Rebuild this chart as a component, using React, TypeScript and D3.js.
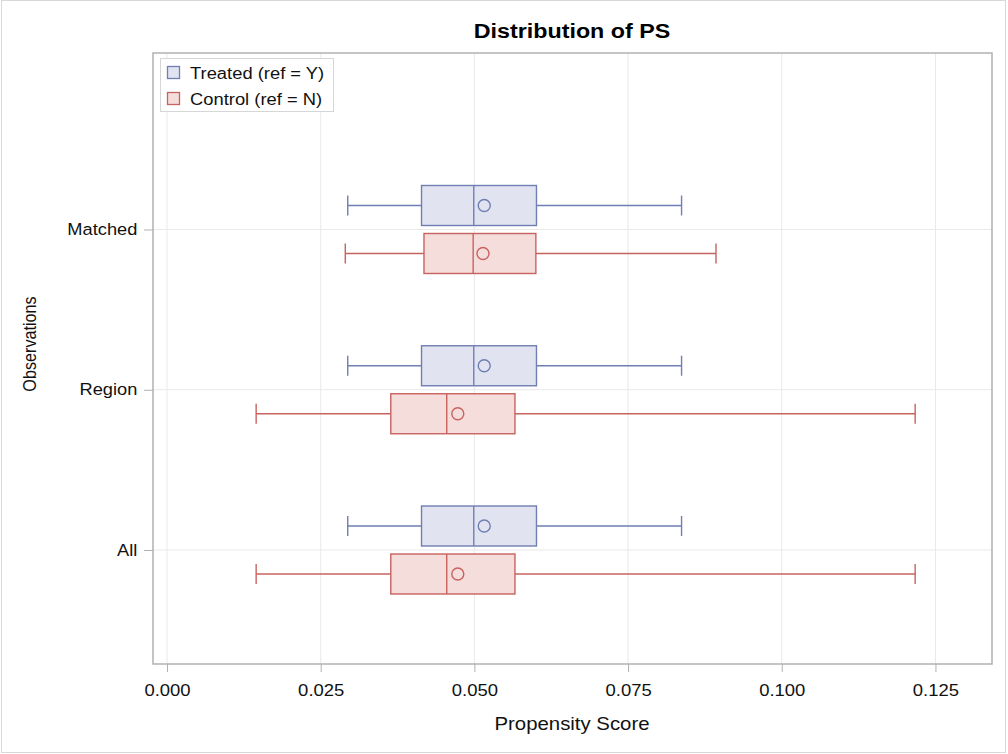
import { useEffect, useRef } from "react";
import * as d3 from "d3";

// groups shown on the y axis (top to bottom)
const groups = ["Matched", "Region", "All"];
const seriesNames = ["Treated (ref = Y)", "Control (ref = N)"];
const xTicks = [0, 0.025, 0.05, 0.075, 0.1, 0.125];

// box statistics per group: [whiskerLow, q1, median, q3, whiskerHigh, mean]
const treatedStats = [
  [0.0294, 0.0414, 0.0499, 0.0601, 0.0837, 0.0516],
  [0.0294, 0.0414, 0.0499, 0.0601, 0.0837, 0.0516],
  [0.0294, 0.0414, 0.0499, 0.0601, 0.0837, 0.0516],
];
const controlStats = [
  [0.0290, 0.0418, 0.0498, 0.0600, 0.0893, 0.0514],
  [0.0145, 0.0364, 0.0455, 0.0566, 0.1217, 0.0473],
  [0.0145, 0.0364, 0.0455, 0.0566, 0.1217, 0.0473],
];

const strokeColors = ["#6f7eb3", "#c8625f"];
const fillColors = ["#e1e4f0", "#f5dddc"];

function App() {
  const ref = useRef<SVGSVGElement>(null);

  useEffect(() => {
    const svg = d3.select(ref.current);
    svg.selectAll("*").remove();
    const font = "'Liberation Sans', Arial, sans-serif";
    const sx = 1.12; // text in the picture is a bit wider than tall

    const left = 153, right = 992, top = 53, bottom = 664;

    // outer border
    svg.append("rect")
      .attr("x", 1.5).attr("y", 0.5).attr("width", 1004).attr("height", 752)
      .attr("fill", "white").attr("stroke", "#d8d8d8");

    const x = d3.scaleLinear().domain([-0.00228, 0.1342]).range([left, right]);
    const y = d3.scalePoint().domain(groups).range([229.5, 550]);

    // grid
    svg.append("g").selectAll("line").data(xTicks).enter().append("line")
      .attr("x1", (d) => x(d)).attr("x2", (d) => x(d))
      .attr("y1", top).attr("y2", bottom)
      .attr("stroke", "#e9e9e9");
    svg.append("g").selectAll("line").data(groups).enter().append("line")
      .attr("x1", left).attr("x2", right)
      .attr("y1", (d) => y(d)!).attr("y2", (d) => y(d)!)
      .attr("stroke", "#e9e9e9");

    // boxes
    const offsets = [-24, 24];
    const boxH = 40;
    [treatedStats, controlStats].forEach((stats, si) => {
      const g = svg.append("g")
        .attr("stroke", strokeColors[si])
        .attr("stroke-width", 1.4);
      stats.forEach((s, gi) => {
        const cy = y(groups[gi])! + offsets[si];
        const [lo, q1, med, q3, hi, mean] = s;
        g.append("line").attr("x1", x(lo)).attr("x2", x(q1)).attr("y1", cy).attr("y2", cy);
        g.append("line").attr("x1", x(q3)).attr("x2", x(hi)).attr("y1", cy).attr("y2", cy);
        g.append("line").attr("x1", x(lo)).attr("x2", x(lo)).attr("y1", cy - 10).attr("y2", cy + 10);
        g.append("line").attr("x1", x(hi)).attr("x2", x(hi)).attr("y1", cy - 10).attr("y2", cy + 10);
        g.append("rect")
          .attr("x", x(q1)).attr("y", cy - boxH / 2)
          .attr("width", x(q3) - x(q1)).attr("height", boxH)
          .attr("fill", fillColors[si]);
        g.append("line").attr("x1", x(med)).attr("x2", x(med))
          .attr("y1", cy - boxH / 2).attr("y2", cy + boxH / 2);
        g.append("circle").attr("cx", x(mean)).attr("cy", cy).attr("r", 6)
          .attr("fill", "none");
      });
    });

    // frame
    svg.append("rect")
      .attr("x", left).attr("y", top).attr("width", right - left).attr("height", bottom - top)
      .attr("fill", "none").attr("stroke", "#aeb1b4").attr("stroke-width", 1.5);

    // x axis
    const xAxis = svg.append("g")
      .attr("transform", `translate(0,${bottom})`)
      .call(d3.axisBottom(x).tickValues(xTicks).tickFormat(d3.format(".3f")).tickSize(8).tickPadding(12));
    xAxis.select(".domain").remove();
    xAxis.selectAll("line").attr("stroke", "#aeb1b4");
    xAxis.selectAll("text").attr("font-family", font).attr("font-size", 16.5).attr("fill", "#111")
      .attr("transform", `scale(${sx},1)`);

    // y axis
    const yAxis = svg.append("g")
      .attr("transform", `translate(${left},0)`)
      .call(d3.axisLeft(y).tickSize(9).tickPadding(5));
    yAxis.select(".domain").remove();
    yAxis.selectAll("line").attr("stroke", "#aeb1b4");
    yAxis.selectAll("text").attr("font-family", font).attr("font-size", 16.3).attr("fill", "#111")
      .attr("transform", `scale(${sx},1)`);

    // titles
    svg.append("text").attr("transform", `translate(572,38) scale(${sx},1)`).attr("text-anchor", "middle")
      .attr("font-family", font).attr("font-size", 20.8).attr("font-weight", "bold")
      .text("Distribution of PS");
    svg.append("text").attr("transform", `translate(572,730) scale(${sx},1)`).attr("text-anchor", "middle")
      .attr("font-family", font).attr("font-size", 18.2).attr("fill", "#111")
      .text("Propensity Score");
    svg.append("text")
      .attr("transform", `translate(36,344) scale(${sx},1) rotate(-90)`)
      .attr("text-anchor", "middle")
      .attr("font-family", font).attr("font-size", 16.2).attr("fill", "#111")
      .text("Observations");

    // legend
    const lg = svg.append("g");
    lg.append("rect").attr("x", 160.5).attr("y", 58.5).attr("width", 173).attr("height", 53)
      .attr("fill", "white").attr("stroke", "#d6d6d6");
    seriesNames.forEach((name, i) => {
      const ly = 73 + i * 26;
      lg.append("rect").attr("x", 167.5).attr("y", ly - 6.5).attr("width", 12).attr("height", 12)
        .attr("fill", fillColors[i]).attr("stroke", strokeColors[i]).attr("stroke-width", 1.3);
      lg.append("text").attr("transform", `translate(190,${ly + 6}) scale(${sx},1)`)
        .attr("font-family", font).attr("font-size", 16.4).attr("fill", "#111")
        .text(name);
    });
  }, []);

  return (
    <svg ref={ref} width={1008} height={754}
      style={{ position: "absolute", left: 0, top: 0, background: "white" }} />
  );
}

export default App;
